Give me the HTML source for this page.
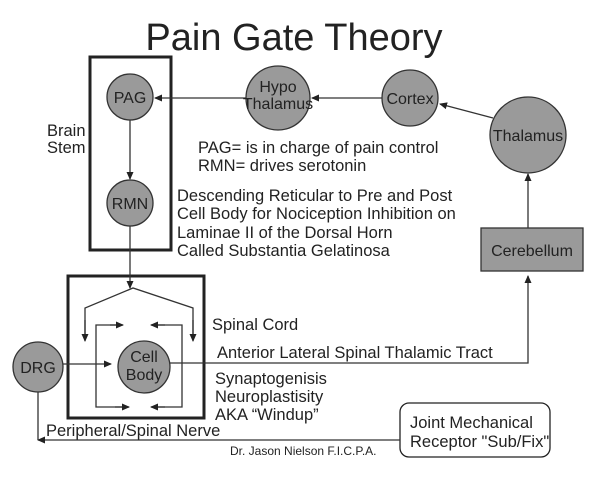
<!DOCTYPE html>
<html><head><meta charset="utf-8"><style>
body{margin:0;background:#fff}
svg text{font-family:"Liberation Sans",Arial,sans-serif;fill:#222}
</style></head><body>
<svg width="600" height="472" viewBox="0 0 600 472" xmlns="http://www.w3.org/2000/svg">
<defs><marker id="a" markerWidth="8" markerHeight="8" refX="7" refY="4" orient="auto" markerUnits="userSpaceOnUse"><path d="M0,0.5 L8,4 L0,7.5z" fill="#222"/></marker></defs>
<text x="294" y="50" font-size="38" text-anchor="middle">Pain Gate Theory</text>
<g stroke="#222" fill="none">
<rect x="90" y="57" width="81" height="193" stroke-width="3"/>
<rect x="68" y="276" width="136" height="142" stroke-width="3"/>
<rect x="400" y="403" width="150" height="54" rx="9" stroke-width="1.3"/>
</g>
<g stroke="#333" stroke-width="1.3" fill="none">
<line x1="246" y1="98" x2="155" y2="98" marker-end="url(#a)"/>
<line x1="382" y1="98" x2="312" y2="98" marker-end="url(#a)"/>
<line x1="493" y1="118" x2="440" y2="104" marker-end="url(#a)"/>
<line x1="528" y1="228" x2="528" y2="174" marker-end="url(#a)"/>
<line x1="130" y1="120" x2="130" y2="179" marker-end="url(#a)"/>
<line x1="130" y1="226" x2="130" y2="288" marker-end="url(#a)"/>
<polyline points="85,340 85,308 133,288 193,308 193,340"/>
<line x1="85" y1="320" x2="85" y2="341" marker-end="url(#a)"/>
<line x1="193" y1="320" x2="193" y2="341" marker-end="url(#a)"/>
<polyline points="122,325 96,325 96,407 128,407"/>
<line x1="110" y1="325" x2="123" y2="325" marker-end="url(#a)"/>
<line x1="115" y1="407" x2="129" y2="407" marker-end="url(#a)"/>
<polyline points="152,325 182,325 182,407 152,407"/>
<line x1="165" y1="325" x2="151" y2="325" marker-end="url(#a)"/>
<line x1="165" y1="407" x2="151" y2="407" marker-end="url(#a)"/>
<line x1="63" y1="364" x2="111" y2="364" marker-end="url(#a)"/>
<polyline points="170,363 528,363 528,276" marker-end="url(#a)"/>
<polyline points="400,440 38,440" marker-end="url(#a)"/>
<line x1="38" y1="392" x2="38" y2="440"/>
</g>
<g fill="#9a9a9a" stroke="#333" stroke-width="1.3">
<circle cx="130" cy="97" r="23"/><circle cx="130" cy="203" r="23"/>
<circle cx="278" cy="98" r="32"/><circle cx="410" cy="98" r="28"/>
<circle cx="528" cy="135" r="38"/>
<rect x="481" y="228" width="102" height="43"/>
<circle cx="38" cy="367" r="25"/><circle cx="144" cy="367" r="26"/>
</g>
<g font-size="16" text-anchor="middle">
<text x="130" y="103">PAG</text><text x="130" y="209">RMN</text>
<text x="278" y="92">Hypo</text><text x="278" y="109">Thalamus</text>
<text x="410" y="104">Cortex</text><text x="528" y="141">Thalamus</text>
<text x="532" y="256">Cerebellum</text>
<text x="38" y="373">DRG</text>
<text x="144" y="362">Cell</text><text x="144" y="380">Body</text>
</g>
<g font-size="16.5">
<text x="47" y="136">Brain</text><text x="47" y="153">Stem</text>
<text x="198" y="153">PAG= is in charge of pain control</text>
<text x="198" y="171">RMN= drives serotonin</text>
<text x="177" y="201">Descending Reticular to Pre and Post</text>
<text x="177" y="219">Cell Body for Nociception Inhibition on</text>
<text x="177" y="238">Laminae II of the Dorsal Horn</text>
<text x="177" y="256">Called Substantia Gelatinosa</text>
<text x="212" y="330">Spinal Cord</text>
<text x="217" y="358">Anterior Lateral Spinal Thalamic Tract</text>
<text x="215" y="384">Synaptogenisis</text>
<text x="215" y="402">Neuroplastisity</text>
<text x="215" y="420">AKA “Windup”</text>
<text x="46" y="436">Peripheral/Spinal Nerve</text>
<text x="410" y="428">Joint Mechanical</text>
<text x="410" y="447">Receptor "Sub/Fix"</text>
</g>
<text x="230" y="455" font-size="12">Dr. Jason Nielson F.I.C.P.A.</text>
</svg>
</body></html>
